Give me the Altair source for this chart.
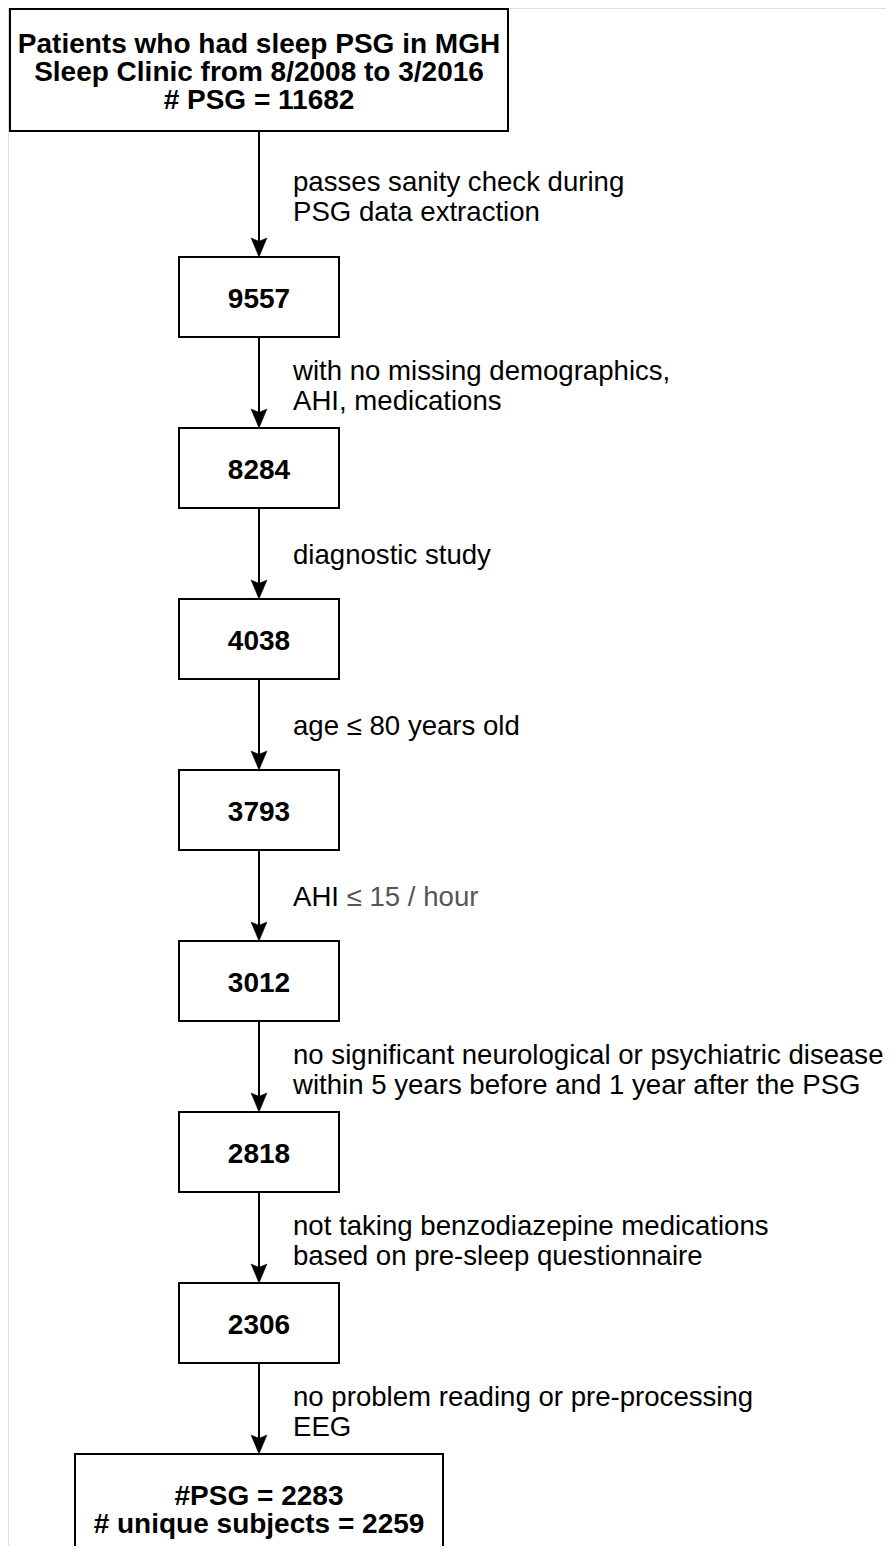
import altair as alt
import pandas as pd

# ---------------- data (text content of the flow chart) ----------------
top_lines = [
    "Patients who had sleep PSG in MGH",
    "Sleep Clinic from 8/2008 to 3/2016",
    "# PSG = 11682",
]
box_counts = ["9557", "8284", "4038", "3793", "3012", "2818", "2306"]
final_lines = ["#PSG = 2283", "# unique subjects = 2259"]
step_texts = [
    ["passes sanity check during", "PSG data extraction"],
    ["with no missing demographics,", "AHI, medications"],
    ["diagnostic study"],
    ["age \u2264 80 years old"],
    ["AHI"],
    ["no significant neurological or psychiatric disease",
     "within 5 years before and 1 year after the PSG"],
    ["not taking benzodiazepine medications", "based on pre-sleep questionnaire"],
    ["no problem reading or pre-processing", "EEG"],
]
grey_step = 4
grey_suffix = "\u2264 15 / hour"

# ---------------- layout parameters ----------------
W, H = 878, 1538
X0, Y0 = 8, 8
CX = 259
TOP_BOX = dict(x=10, x2=508, y=9, y2=131)
SB_X, SB_X2, SB_H = 179, 339, 80
SB_TOP0, PITCH = 257, 171
FINAL_X, FINAL_X2 = 75, 443
FINAL_TOP = SB_TOP0 + PITCH * len(box_counts)
LABEL_X = 293
LINE_GAP = 30
FONT = "Liberation Sans"
BOLD_SIZE = 28
LABEL_SIZE = 27.6
ARROW_H = 19

# boxes
boxes = [TOP_BOX]
for i in range(len(box_counts)):
    t = SB_TOP0 + PITCH * i
    boxes.append(dict(x=SB_X, x2=SB_X2, y=t, y2=t + SB_H))
boxes.append(dict(x=FINAL_X, x2=FINAL_X2, y=FINAL_TOP, y2=FINAL_TOP + 200))
boxes_df = pd.DataFrame(boxes)

# bold texts in boxes
bold = []
top_mid = 71
for j, s in enumerate(top_lines):
    bold.append(dict(x=CX, y=top_mid + 10 + (j - 1) * 28, t=s))
for i, s in enumerate(box_counts):
    c = SB_TOP0 + PITCH * i + SB_H / 2
    bold.append(dict(x=CX, y=c + 11, t=s))
for j, s in enumerate(final_lines):
    bold.append(dict(x=CX, y=FINAL_TOP + 51 + j * 28, t=s))
bold_df = pd.DataFrame(bold)

# arrows
starts = [TOP_BOX["y2"]] + [SB_TOP0 + PITCH * i + SB_H for i in range(len(box_counts))]
ends = [SB_TOP0 + PITCH * i for i in range(len(box_counts))] + [FINAL_TOP]
rules_df = pd.DataFrame([dict(x=CX, y=s, y2=e - ARROW_H + 4) for s, e in zip(starts, ends)])
heads_df = pd.DataFrame([dict(x=CX, y=e - ARROW_H / 2) for e in ends])

# step labels
labs = []
greys = []
for k, lines in enumerate(step_texts):
    mid = (starts[k] + ends[k]) / 2
    if len(lines) == 1:
        labs.append(dict(x=LABEL_X, y=mid + 10, t=lines[0]))
        if k == grey_step:
            greys.append(dict(x=LABEL_X + 1.945 * LABEL_SIZE, y=mid + 10, t=grey_suffix))
    else:
        for j, s in enumerate(lines):
            labs.append(dict(x=LABEL_X, y=mid - 3 + j * LINE_GAP, t=s))
labs_df = pd.DataFrame(labs)
greys_df = pd.DataFrame(greys)

xs = alt.Scale(domain=[X0, X0 + W], range=[0, W])
ys = alt.Scale(domain=[Y0 + H, Y0])

def X(f="x"):
    return alt.X(f"{f}:Q", scale=xs, axis=None)

def Y(f="y"):
    return alt.Y(f"{f}:Q", scale=ys, axis=None)

box_layer = alt.Chart(boxes_df).mark_rect(
    fill="white", stroke="black", strokeWidth=2, clip=True
).encode(x=X(), x2="x2:Q", y=Y(), y2="y2:Q")

rule_layer = alt.Chart(rules_df).mark_rule(color="black", strokeWidth=2).encode(
    x=X(), y=Y(), y2="y2:Q"
)

head_layer = alt.Chart(heads_df).mark_point(
    shape="M0,1L-0.84,-1L0,-0.65L0.84,-1Z", filled=True, fill="black",
    stroke="black", strokeWidth=0.5, opacity=1, size=ARROW_H * ARROW_H
).encode(x=X(), y=Y())

bold_layer = alt.Chart(bold_df).mark_text(
    font=FONT, fontSize=BOLD_SIZE, fontWeight="bold", align="center",
    baseline="alphabetic", color="black"
).encode(x=X(), y=Y(), text="t:N")

label_layer = alt.Chart(labs_df).mark_text(
    font=FONT, fontSize=LABEL_SIZE, align="left", baseline="alphabetic", color="black"
).encode(x=X(), y=Y(), text="t:N")

grey_layer = alt.Chart(greys_df).mark_text(
    font=FONT, fontSize=LABEL_SIZE, align="left", baseline="alphabetic", color="#555555"
).encode(x=X(), y=Y(), text="t:N")

chart = alt.layer(
    box_layer, rule_layer, head_layer, bold_layer, label_layer, grey_layer
).properties(
    width=W, height=H, padding=0, autosize=alt.AutoSizeParams(type="none")
).configure_view(strokeWidth=0, stroke="transparent").configure(background="white")

chart.save("out.html", embed_options={"renderer": "svg", "actions": False})
